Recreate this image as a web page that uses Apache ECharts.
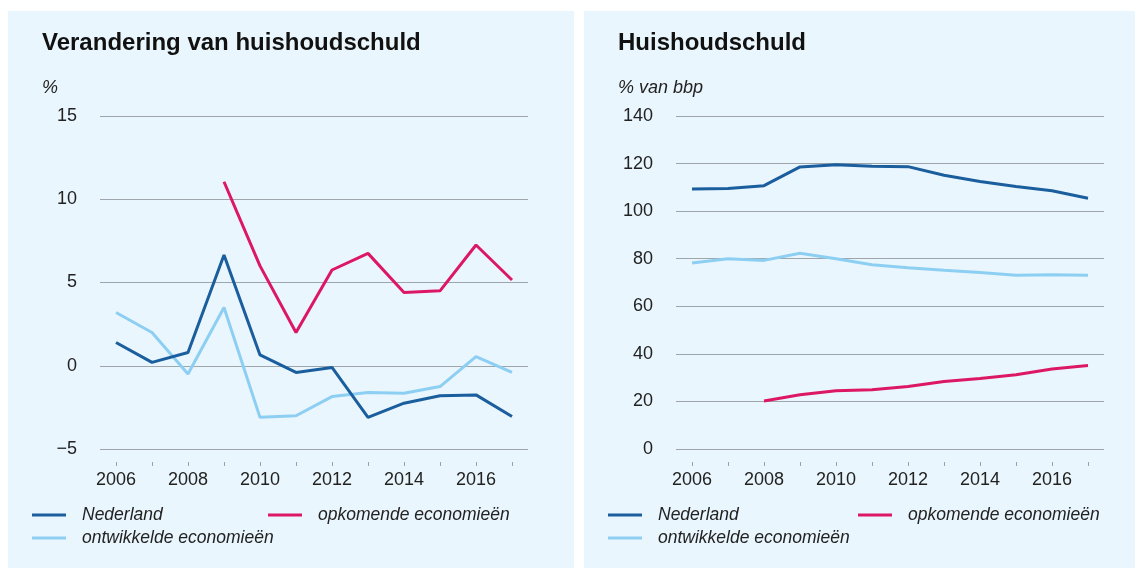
<!DOCTYPE html>
<html>
<head>
<meta charset="utf-8">
<script src="https://cdn.jsdelivr.net/npm/echarts@6/dist/echarts.min.js"></script>
<style>
  html, body { margin: 0; padding: 0; background: #fff; }
  body { width: 1135px; height: 568px; position: relative; overflow: hidden; }
  .panel { position: absolute; top: 11px; height: 557px; background: #eaf6fd; }
  #left { left: 8px; width: 566px; }
  #right { left: 584px; width: 551px; }
</style>
</head>
<body>
<div id="left" class="panel"></div>
<div id="right" class="panel"></div>
<script>
const years = [2006, 2007, 2008, 2009, 2010, 2011, 2012, 2013, 2014, 2015, 2016, 2017];
const labelYears = [2006, 2008, 2010, 2012, 2014, 2016];

// Verandering van huishoudschuld (%)
const changeNederland = [1.4, 0.2, 0.8, 6.65, 0.65, -0.4, -0.1, -3.1, -2.25, -1.8, -1.75, -3.05];
const changeOntwikkeld = [3.2, 2.0, -0.5, 3.5, -3.1, -3.0, -1.85, -1.6, -1.65, -1.25, 0.55, -0.4];
const changeOpkomend = [null, null, null, 11.05, 6.0, 2.0, 5.75, 6.75, 4.4, 4.5, 7.25, 5.15];

// Huishoudschuld (% van bbp)
const debtNederland = [109.3, 109.5, 110.7, 118.6, 119.5, 118.9, 118.7, 115.1, 112.5, 110.4, 108.6, 105.4];
const debtOntwikkeld = [78.2, 80.0, 79.3, 82.3, 80.0, 77.5, 76.2, 75.1, 74.2, 73.0, 73.3, 73.0];
const debtOpkomend = [null, null, 20.2, 22.8, 24.5, 24.9, 26.3, 28.4, 29.6, 31.2, 33.6, 35.1];

const NAMES = ['Nederland', 'opkomende economieën', 'ontwikkelde economieën'];
const COLORS = { Nederland: '#1a5e9e', 'opkomende economieën': '#dc1864', 'ontwikkelde economieën': '#8dcff3' };
const FONT = '"Liberation Sans", Arial, sans-serif';

function pairs(values) {
  return years.map((y, i) => [y, values[i]]).filter(p => p[1] !== null);
}

function lineSeries(name, values) {
  return {
    name: name,
    type: 'line',
    data: pairs(values),
    symbol: 'none',
    lineStyle: { width: 3, color: COLORS[name] },
    itemStyle: { color: COLORS[name] },
    z: name === 'Nederland' ? 4 : 3
  };
}

function legendItem(name, left, top) {
  return {
    data: [name],
    left: left,
    top: top,
    padding: 0,
    icon: 'rect',
    itemWidth: 34,
    itemHeight: 3,
    selectedMode: false,
    textStyle: { fontFamily: FONT, fontSize: 17.5, fontStyle: 'italic', color: '#222', padding: [0, 0, 0, 11] }
  };
}

function buildOption(cfg) {
  return {
    animation: false,
    title: [
      { text: cfg.title, left: 34, top: 20, padding: 0,
        textStyle: { fontFamily: FONT, fontSize: 24, fontWeight: 'bold', color: '#111' } },
      { text: cfg.unit, left: 34, top: 68, padding: 0,
        textStyle: { fontFamily: FONT, fontSize: 18, fontStyle: 'italic', fontWeight: 'normal', color: '#222' } }
    ],
    legend: [
      legendItem(NAMES[0], 24, 495),
      legendItem(NAMES[1], cfg.legendCol2, 495),
      legendItem(NAMES[2], 24, 518)
    ],
    grid: { left: 92, top: 105, width: 428, height: 333 },
    xAxis: {
      type: 'value',
      min: 2006 - 16 / 36,
      max: 2017 + 16 / 36,
      offset: 13,
      axisLine: { show: false, onZero: false },
      splitLine: { show: false },
      axisTick: { show: true, length: 4, customValues: years, lineStyle: { color: '#9aa0a4' } },
      axisLabel: { customValues: labelYears, margin: 9, fontFamily: FONT, fontSize: 18, color: '#222',
        formatter: v => String(v) }
    },
    yAxis: {
      type: 'value',
      min: cfg.min,
      max: cfg.max,
      interval: cfg.interval,
      axisLine: { show: false },
      axisTick: { show: false },
      splitLine: { lineStyle: { color: '#9ea6ab', width: 1 } },
      axisLabel: { margin: 23, fontFamily: FONT, fontSize: 18, color: '#222',
        formatter: v => (v < 0 ? '\u2212' + Math.abs(v) : String(v)) }
    },
    series: [
      lineSeries(NAMES[2], cfg.ontwikkeld),
      lineSeries(NAMES[1], cfg.opkomend),
      lineSeries(NAMES[0], cfg.nederland)
    ]
  };
}

const leftChart = echarts.init(document.getElementById('left'));
leftChart.setOption(buildOption({
  title: 'Verandering van huishoudschuld',
  unit: '%',
  min: -5, max: 15, interval: 5,
  legendCol2: 260,
  nederland: changeNederland,
  ontwikkeld: changeOntwikkeld,
  opkomend: changeOpkomend
}));

const rightChart = echarts.init(document.getElementById('right'));
rightChart.setOption(buildOption({
  title: 'Huishoudschuld',
  unit: '% van bbp',
  min: 0, max: 140, interval: 20,
  legendCol2: 274,
  nederland: debtNederland,
  ontwikkeld: debtOntwikkeld,
  opkomend: debtOpkomend
}));
</script>
</body>
</html>
